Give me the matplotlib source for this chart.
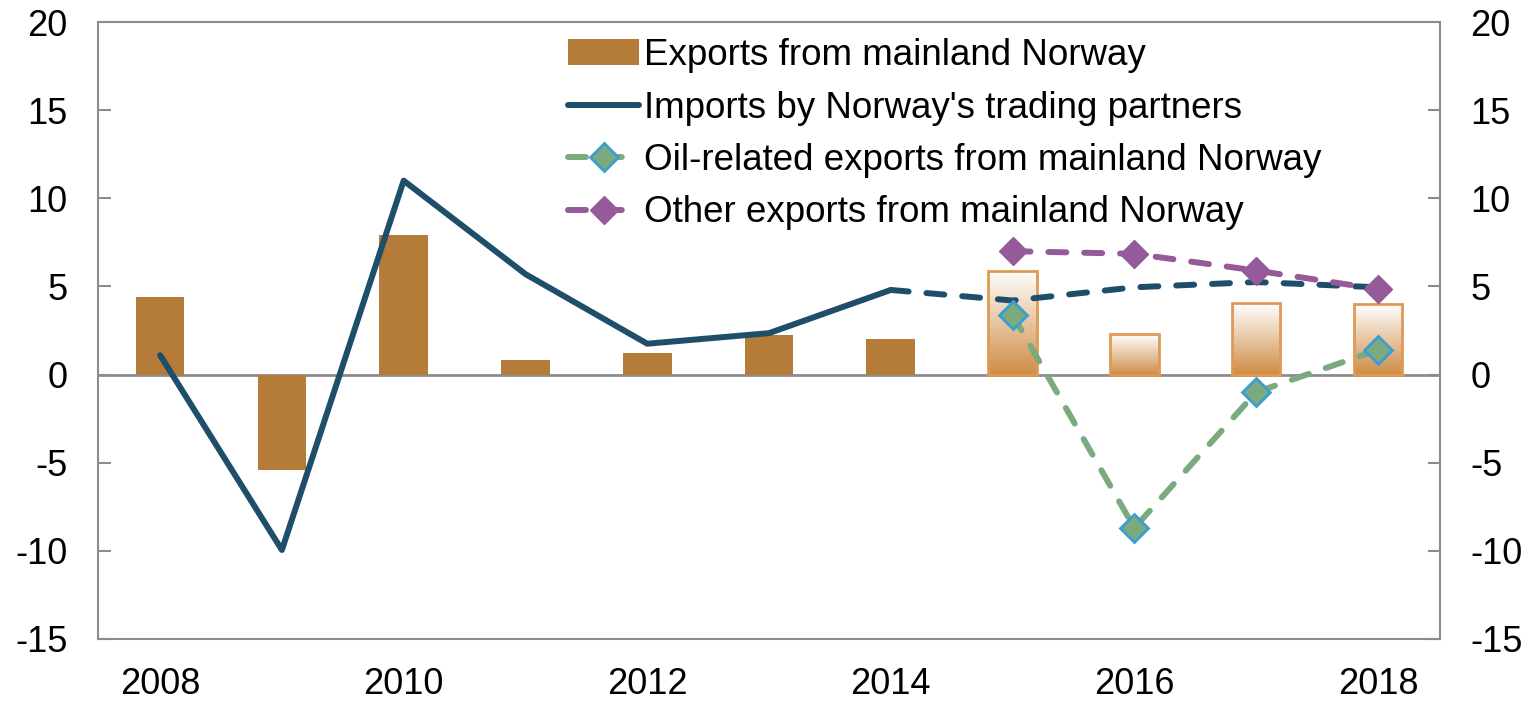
import matplotlib.pyplot as plt
import numpy as np
from matplotlib.colors import LinearSegmentedColormap

plt.rcParams['font.family'] = ['Liberation Sans', 'DejaVu Sans']
plt.rcParams['axes.unicode_minus'] = False

years = [2008, 2009, 2010, 2011, 2012, 2013, 2014, 2015, 2016, 2017, 2018]
exports = [4.4, -5.4, 7.9, 0.83, 1.2, 2.25, 2.0, 5.9, 2.3, 4.05, 4.0]
n_hist = 7  # first 7 bars are outcomes, the rest projections

imp_years = [2008, 2009, 2010, 2011, 2012, 2013, 2014]
imports = [1.1, -9.95, 11.0, 5.7, 1.75, 2.35, 4.8]
imp_proj_years = [2014, 2015, 2016, 2017, 2018]
imports_proj = [4.8, 4.2, 4.95, 5.25, 4.95]

proj_years = [2015, 2016, 2017, 2018]
oil = [3.4, -8.7, -1.0, 1.4]
other = [7.0, 6.85, 5.9, 4.85]

c_bar = '#B57B38'
c_imp = '#1F4E6B'
c_oil = '#7BAA7E'
c_oth = '#955A9A'

fig = plt.figure(figsize=(15.34, 7.02), dpi=100)
ax = fig.add_axes([98/1534, 1-639/702, (1440-98)/1534, (639-22)/702])

ax.axhline(0, color='#8C8C8C', lw=2, zorder=1)

w = 0.4
ax.bar(years[:n_hist], exports[:n_hist], width=w, color=c_bar, zorder=2,
       label='Exports from mainland Norway')

# gradient bars for projections
grad = np.linspace(0, 1, 256).reshape(-1, 1)
cmap = LinearSegmentedColormap.from_list('g', ['#CF8C45', '#FFFFFF'])
proj_bars = ax.bar(years[n_hist:], exports[n_hist:], width=w, color='none',
                   edgecolor='#DE9A55', lw=2, zorder=3)
for b in proj_bars:
    x0, y0 = b.get_x(), b.get_y()
    im = ax.imshow(grad, cmap=cmap, aspect='auto', origin='lower',
                   extent=[x0, x0 + b.get_width(), y0, y0 + b.get_height()], zorder=2)
    im.set_clip_path(b)

dash = (0, (3, 3))
ax.plot(imp_years, imports, color=c_imp, lw=4.3, zorder=4, solid_capstyle='round',
        label="Imports by Norway's trading partners")
ax.plot(imp_proj_years, imports_proj, color=c_imp, lw=4.3, ls=dash, zorder=4,
        dash_capstyle='round')
ax.plot(proj_years, oil, color=c_oil, lw=4.3, ls=dash, dash_capstyle='round',
        marker='D', ms=14, mfc=c_oil, mec='#3A9FD0', mew=2, zorder=5,
        label='Oil-related exports from mainland Norway')
ax.plot(proj_years, other, color=c_oth, lw=4.3, ls=dash, dash_capstyle='round',
        marker='D', ms=14, mfc=c_oth, mec=c_oth, zorder=5,
        label='Other exports from mainland Norway')

ax.set_xlim(2007.49, 2018.51)
ax.set_ylim(-15, 20)
ax.set_yticks(range(-15, 21, 5))
ax.set_xticks(range(2008, 2019, 2))
ax.tick_params(axis='y', direction='in', length=9, width=1.5, color='#8C8C8C',
               labelsize=26, pad=22, right=True, labelright=True)
ax.tick_params(axis='x', length=0, labelsize=26, pad=20)
for s in ax.spines.values():
    s.set_color('#8C8C8C')
    s.set_linewidth(1.5)

h, l = ax.get_legend_handles_labels()
order = [l.index('Exports from mainland Norway'),
         l.index("Imports by Norway's trading partners"),
         l.index('Oil-related exports from mainland Norway'),
         l.index('Other exports from mainland Norway')]
leg = ax.legend([h[i] for i in order], [l[i] for i in order],
                loc='upper left', bbox_to_anchor=(0.350, 0.974), frameon=False,
                prop={'size': 26.5}, handlelength=1.95, handletextpad=0.12,
                labelspacing=0.475, borderpad=0, borderaxespad=0)

fig.savefig('out.png', dpi=100)
